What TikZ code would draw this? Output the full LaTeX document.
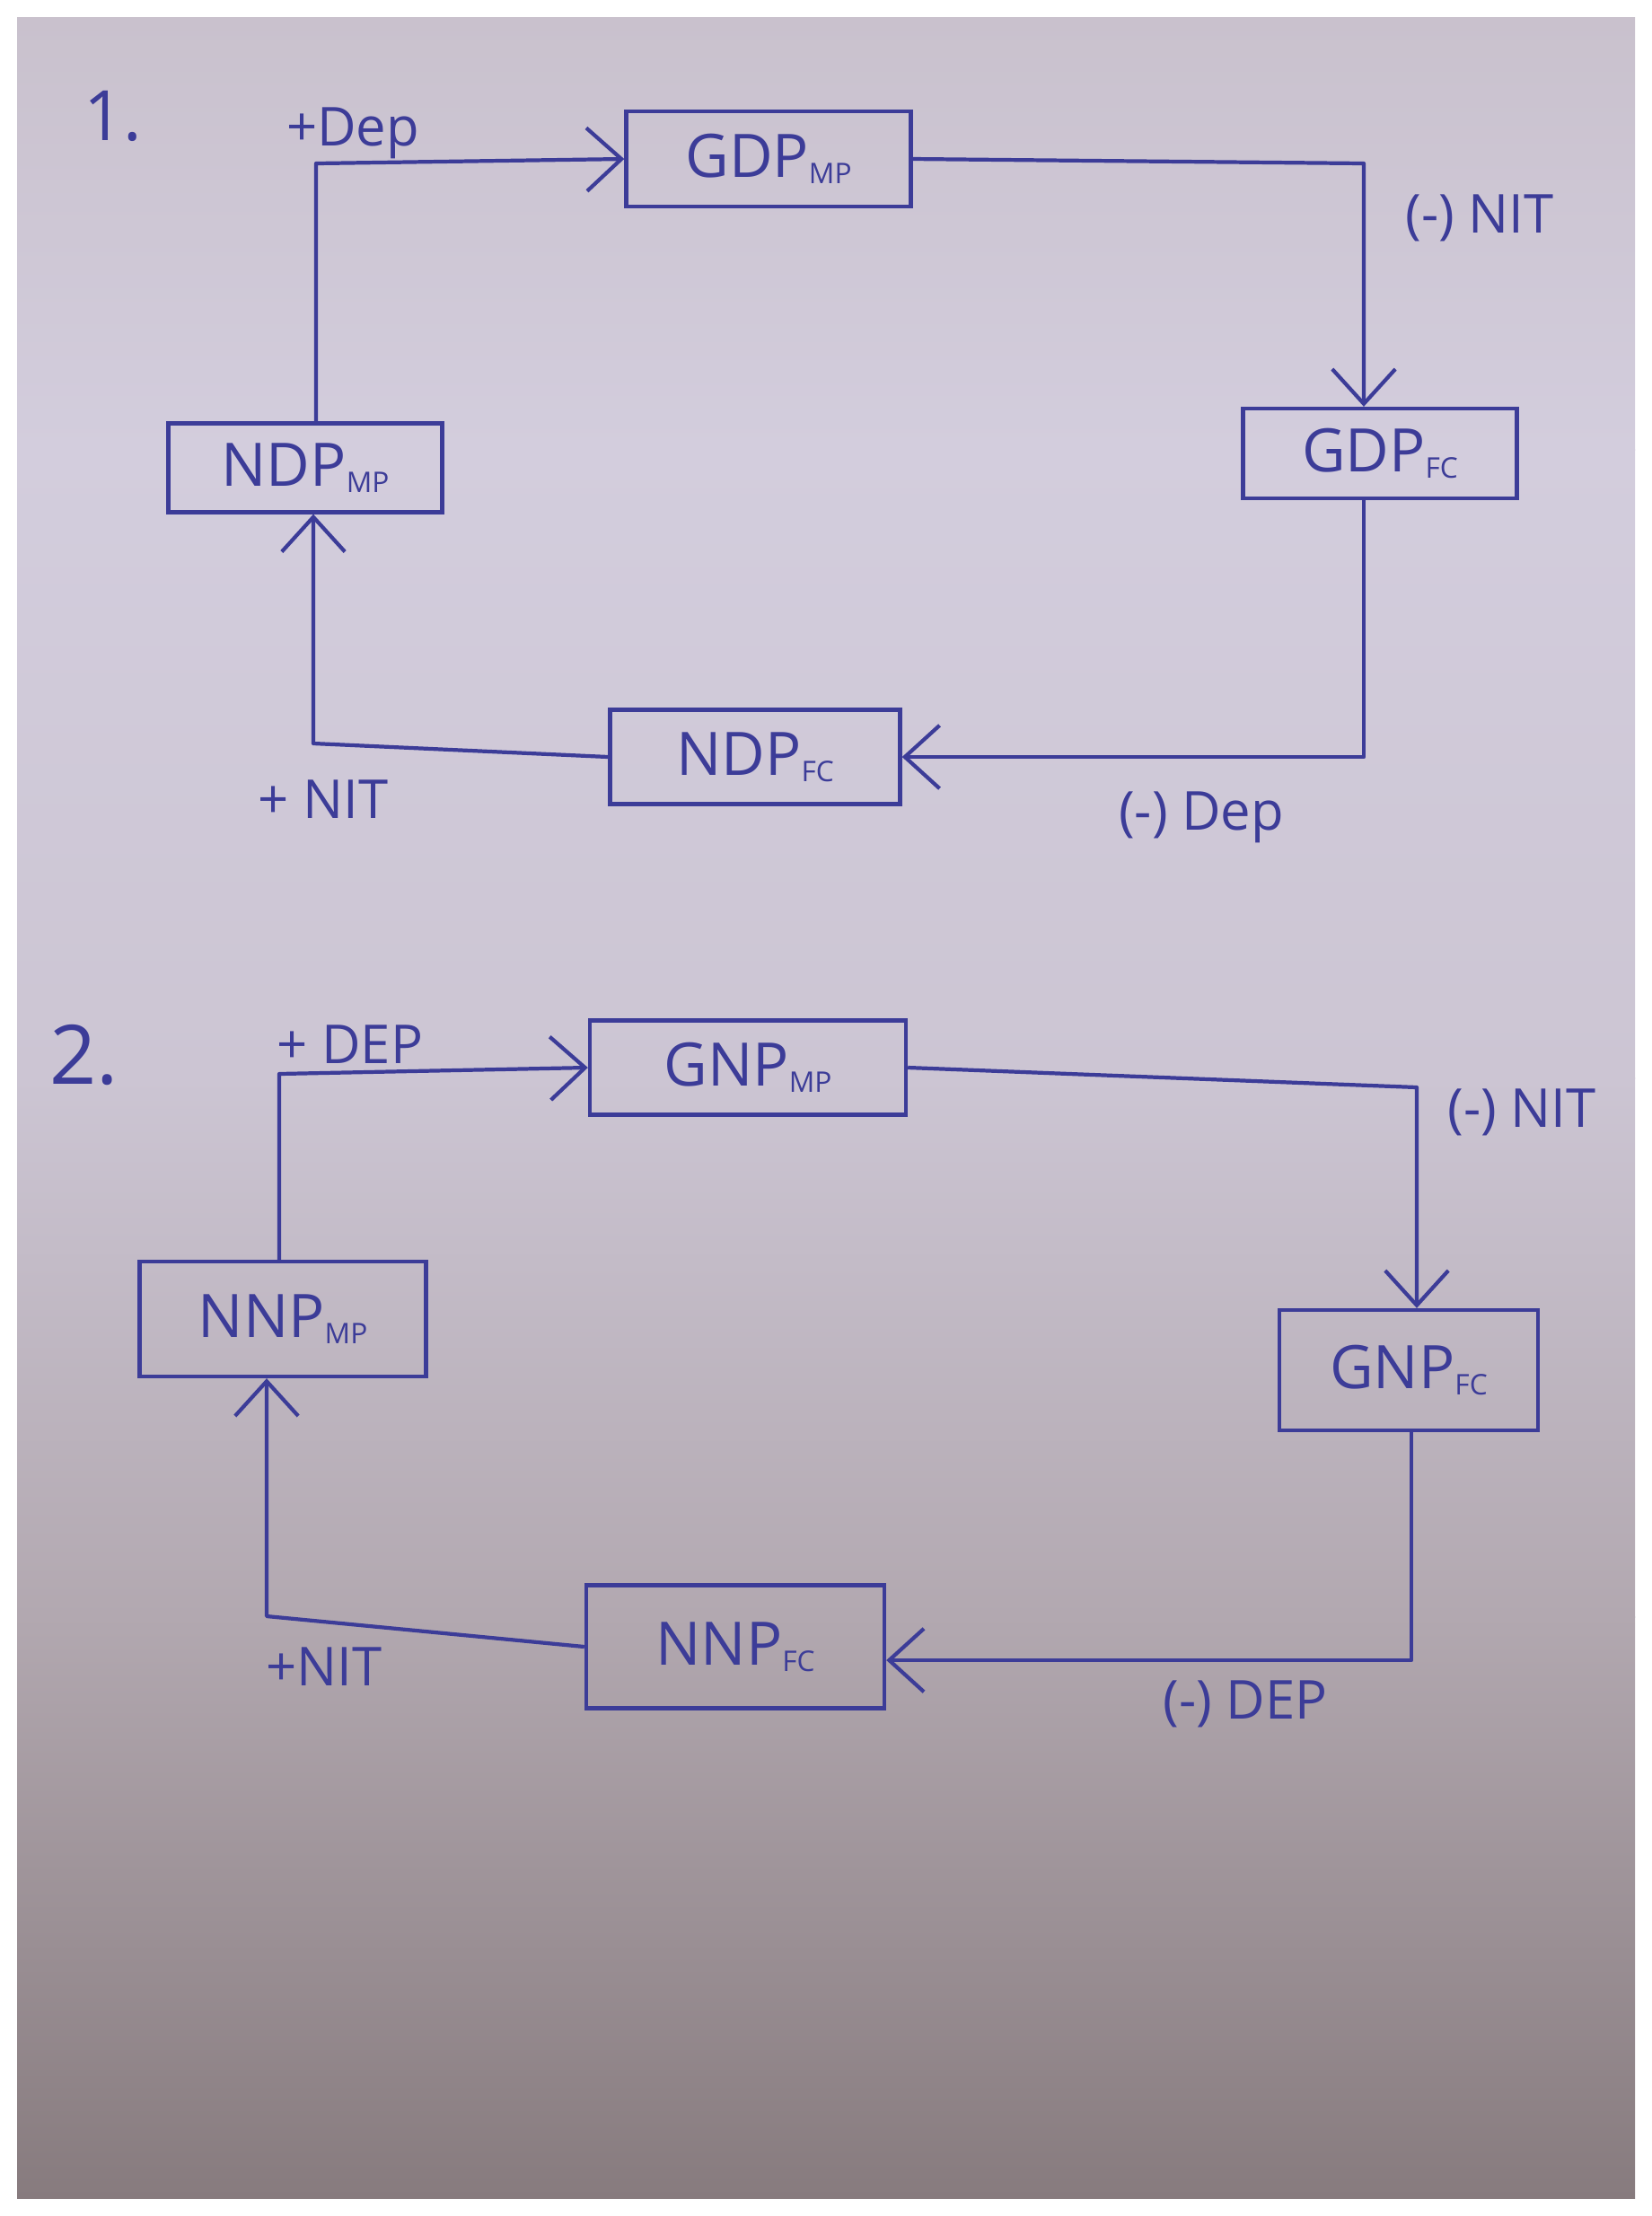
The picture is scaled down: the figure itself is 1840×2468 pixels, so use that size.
\documentclass[tikz,border=0pt]{standalone}
\usepackage{fontspec}
\setmainfont{Open Sans}
\usetikzlibrary{arrows.meta}
\definecolor{ink}{HTML}{3C3C98}
\definecolor{paperA}{HTML}{C9C1CD}
\definecolor{paperB}{HTML}{D3CDDD}
\definecolor{paperC}{HTML}{CCC5D3}
\definecolor{paperD}{HTML}{B2A8B0}
\definecolor{paperE}{HTML}{877B7E}
\newcommand{\sbs}[1]{\raisebox{-2pt}{\fontsize{9}{9}\selectfont #1}}
\tikzset{
  box/.style={draw=ink, line width=1.2pt, inner sep=0pt, text=ink, font=\fontsize{19}{19}\selectfont},
  lbl/.style={text=ink, inner sep=0pt, font=\fontsize{17}{17}\selectfont},
  conn/.style={draw=ink, line width=1.2pt, line join=round},
  arr/.style={-{Straight Barb[length=11pt,width=20pt,line width=1.2pt]}},
}
\begin{document}
\begin{tikzpicture}[x=0.01cm,y=-0.01cm]
\useasboundingbox (0,0) rectangle (1840,2468);
\fill[white] (0,0) rectangle (1840,2468);
\begin{scope}[y=0.01cm]
  \shade[top color=paperA,bottom color=paperB] (19,-19) rectangle (1821,-501);
  \shade[top color=paperB,bottom color=paperC] (19,-500) rectangle (1821,-1201);
  \shade[top color=paperC,bottom color=paperD] (19,-1200) rectangle (1821,-1801);
  \shade[top color=paperD,bottom color=paperE] (19,-1800) rectangle (1821,-2448);
\end{scope}

% ---- section 1 ----
\node[box, minimum width=3.17cm, minimum height=1.06cm] (gdpmp) at (856,177) {GDP\sbs{MP}};
\node[box, minimum width=3.05cm, minimum height=1.00cm] (gdpfc) at (1537,505) {GDP\sbs{FC}};
\node[box, minimum width=3.23cm, minimum height=1.05cm] (ndpfc) at (841,843) {NDP\sbs{FC}};
\node[box, minimum width=3.05cm, minimum height=0.99cm] (ndpmp) at (340,521) {NDP\sbs{MP}};

\coordinate (c1) at (352,182);
\coordinate (c2) at (1519,182);
\coordinate (c3) at (1519,843);
\coordinate (c4) at (349,828);
\draw[conn,arr] (ndpmp.north -| c1) -- (c1) -- (gdpmp.west);
\draw[conn,arr] (gdpmp.east) -- (c2) -- (gdpfc.north -| c2);
\draw[conn,arr] (gdpfc.south -| c3) -- (c3) -- (ndpfc.east);
\draw[conn,arr] (ndpfc.west) -- (c4) -- (ndpmp.south -| c4);

\node[lbl, font=\fontsize{22}{22}\selectfont] (n1) at (126,129) {1.};
\node[lbl] (l1) at (393,148) {+Dep};
\node[lbl] (l2) at (1648,243) {(-) NIT};
\node[lbl] (l3) at (1338,910) {(-) Dep};
\node[lbl] (l4) at (360,890) {+ NIT};

% ---- section 2 ----
\node[box, minimum width=3.52cm, minimum height=1.05cm] (gnpmp) at (833,1189) {GNP\sbs{MP}};
\node[box, minimum width=2.88cm, minimum height=1.34cm] (gnpfc) at (1569,1526) {GNP\sbs{FC}};
\node[box, minimum width=3.32cm, minimum height=1.37cm] (nnpfc) at (819,1834) {NNP\sbs{FC}};
\node[box, minimum width=3.19cm, minimum height=1.28cm] (nnpmp) at (315,1469) {NNP\sbs{MP}};

\coordinate (c5) at (311,1196);
\coordinate (c6) at (1578,1211);
\coordinate (c7) at (1572,1849);
\coordinate (c8) at (297,1800);
\draw[conn,arr] (nnpmp.north -| c5) -- (c5) -- (gnpmp.west);
\draw[conn,arr] (gnpmp.east) -- (c6) -- (gnpfc.north -| c6);
\draw[conn,arr] (gnpfc.south -| c7) -- (c7) -- (nnpfc.east |- c7);
\draw[conn,arr] (nnpfc.west) -- (c8) -- (nnpmp.south -| c8);

\node[lbl, font=\fontsize{26}{26}\selectfont] (n2) at (94,1175) {2.};
\node[lbl] (l5) at (390,1163) {+ DEP};
\node[lbl] (l6) at (1695,1239) {(-) NIT};
\node[lbl] (l7) at (1387,1898) {(-) DEP};
\node[lbl] (l8) at (361,1856) {+NIT};
\end{tikzpicture}
\end{document}
